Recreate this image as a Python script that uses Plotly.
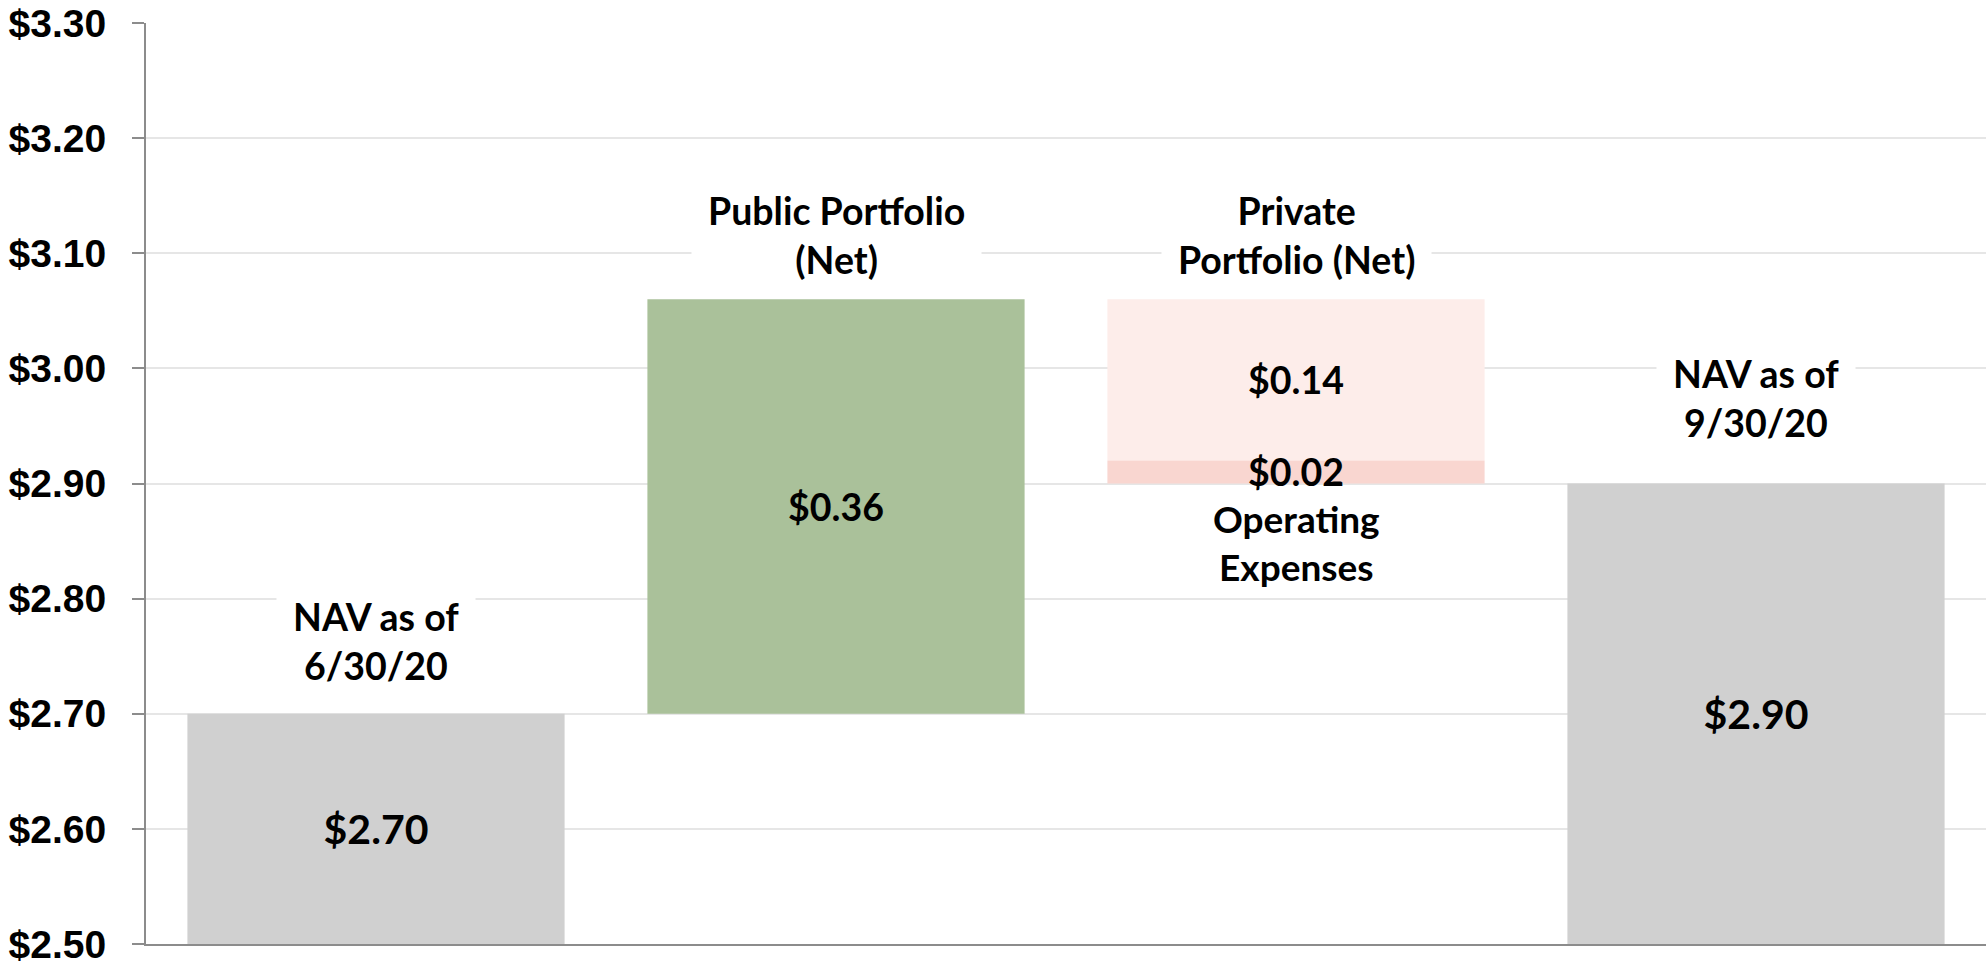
import plotly.graph_objects as go

# ---- data ----
categories = ["NAV as of<br>6/30/20", "Public Portfolio<br>(Net)", "Private<br>Portfolio (Net)", "NAV as of<br>9/30/20"]
start_nav = 2.70
public_net = 0.36
private_net = -0.14
operating_expenses = -0.02
end_nav = 2.90
axis_min = 2.50
axis_max = 3.30
tick_step = 0.10
tick_labels = ["$2.50", "$2.60", "$2.70", "$2.80", "$2.90", "$3.00", "$3.10", "$3.20", "$3.30"]
# label placement (data units, centre of label)
label_y = [2.763, 3.116, 3.116, 2.974]

# derived bar geometry from values
public_base = start_nav
private_base = start_nav + public_net
opex_base = private_base + private_net

FONT = "Lato"
TICK_FONT = "Liberation Sans"
GRAY = "#d0d0d0"
GREEN = "#aac19a"
PINK_LIGHT = "#fdedea"
PINK_DARK = "#f9d6d0"

def money(v):
    return "${:.2f}".format(abs(v))

def common(size):
    return dict(textposition="inside", insidetextanchor="middle", constraintext="none",
                textfont=dict(family=FONT, size=size, color="black", weight="bold"),
                hoverinfo="skip", showlegend=False, marker_line_width=0)

fig = go.Figure()

fig.add_trace(go.Bar(x=[categories[0], categories[3]],
                     y=[start_nav - axis_min, end_nav - axis_min], base=[axis_min, axis_min],
                     marker_color=GRAY, text=[money(start_nav), money(end_nav)], **common(41)))
fig.add_trace(go.Bar(x=[categories[1]], y=[public_net], base=[public_base],
                     marker_color=GREEN, text=[money(public_net)], **common(37.5)))
fig.add_trace(go.Bar(x=[categories[2]], y=[private_net], base=[private_base],
                     marker_color=PINK_LIGHT, text=[money(private_net)], **common(37.5)))
fig.add_trace(go.Bar(x=[categories[2]], y=[operating_expenses], base=[opex_base],
                     marker_color=PINK_DARK, text=[money(operating_expenses)], **common(37.5)))

# category labels with white background
for cat, ly in zip(categories, label_y):
    fig.add_annotation(x=cat, y=ly, text=cat, showarrow=False, xref="x", yref="y",
                       bgcolor="white", borderpad=16,
                       font=dict(family=FONT, size=37.5, color="black", weight="bold"))

# operating expenses label
fig.add_annotation(x=categories[2], y=opex_base + operating_expenses, yanchor="top", yshift=-10,
                   text="Operating<br>Expenses", showarrow=False,
                   font=dict(family=FONT, size=37, color="black", weight="bold"))

tickvals = [round(axis_min + i * tick_step, 2) for i in range(len(tick_labels))]

fig.update_layout(
    width=1986, height=964,
    margin=dict(l=146, r=0, t=23, b=20),
    plot_bgcolor="white", paper_bgcolor="white",
    barmode="overlay", bargap=0.18,
    font=dict(family=FONT, color="black"),
    xaxis=dict(type="category", categoryorder="array", categoryarray=categories,
               range=[-0.5, 3.5], showticklabels=False, ticks="",
               showline=True, linecolor="#8c8c8c", linewidth=2, showgrid=False),
    yaxis=dict(range=[axis_min, axis_max], tickvals=tickvals, ticktext=tick_labels,
               showline=True, linecolor="#8c8c8c", linewidth=2,
               ticks="outside", ticklen=12, tickwidth=2, tickcolor="#8c8c8c",
               ticklabelstandoff=18, automargin=False, ticklabeloverflow="allow",
               gridcolor="#e6e6e6", gridwidth=2, zeroline=False,
               tickfont=dict(family=TICK_FONT, size=39, color="black", weight="bold")),
)

fig.write_html("out.html", config={"displayModeBar": False},
               post_script="document.body.style.margin='0';document.body.style.overflow='hidden';")
